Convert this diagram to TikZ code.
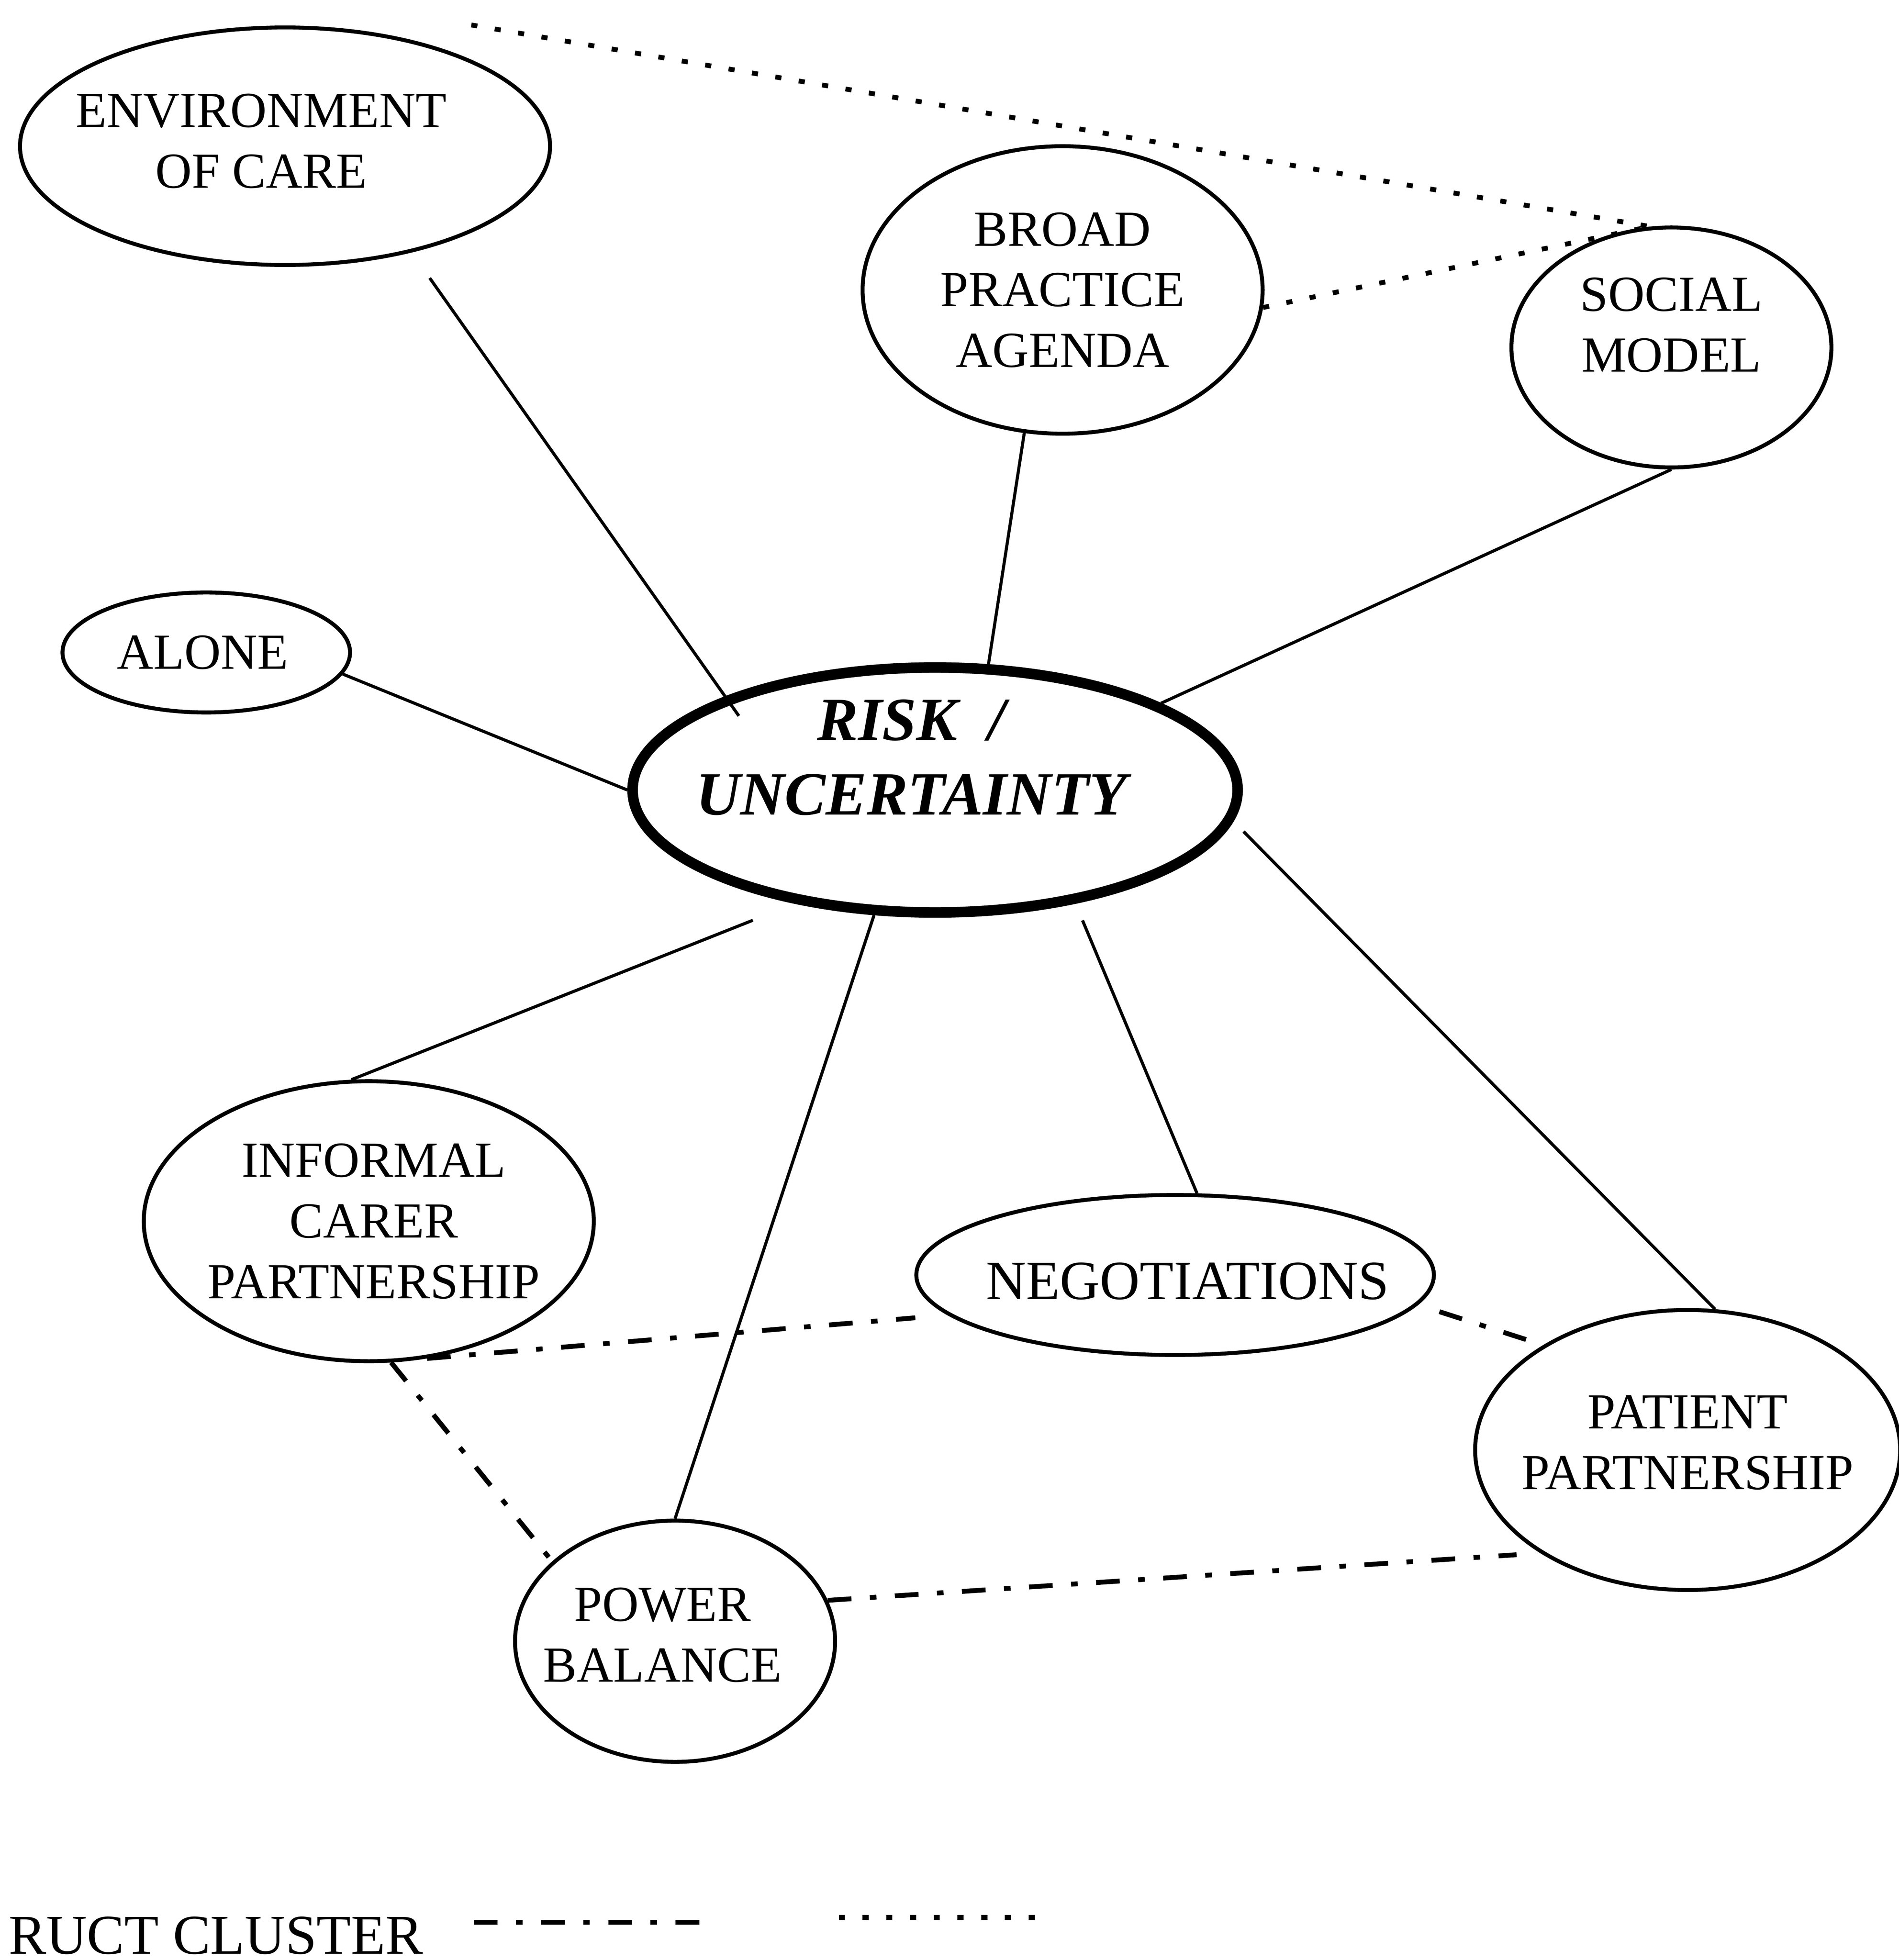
\documentclass[tikz,border=0pt]{standalone}
\usepackage{fontspec}
\setmainfont{Liberation Serif}
\usetikzlibrary{shapes.geometric}

\tikzset{
	bubble/.style 2 args={ellipse, draw, line width=0.9pt, inner sep=0pt, minimum width=#1cm, minimum height=#2cm},
	txt/.style={align=center, font=\fontsize{11.5}{13.8}\selectfont},
	link/.style={line width=0.7pt},
	dashdotline/.style={line width=1.1pt, dash pattern=on 5.4pt off 4.2pt on 1.5pt off 4.2pt},
	dotline/.style={line width=1.1pt, dash pattern=on 1.4pt off 4pt}
}

\begin{document}
\begin{tikzpicture}
		\useasboundingbox (0,0) rectangle (15.19,15.68);
		
		\node[bubble={4.24}{1.90}, label={[txt, xshift=-0.19cm, yshift=0.04cm]center:{ENVIRONMENT\\OF CARE}}] (env) at (2.28,14.51) {};
		\node[bubble={3.20}{2.30}, label={[txt]center:{BROAD\\PRACTICE\\AGENDA}}] (broad) at (8.50,13.36) {};
		\node[bubble={2.56}{1.92}, label={[txt, yshift=0.18cm]center:{SOCIAL\\MODEL}}] (social) at (13.37,12.90) {};
		\node[bubble={2.30}{0.96}, label={[txt, xshift=-0.03cm]center:ALONE}] (alone) at (1.65,10.46) {};
		\node[bubble={4.84}{1.96}, line width=2.4pt, label={[txt, font=\fontsize{14}{17}\selectfont\bfseries\itshape, xshift=-0.19cm, yshift=0.26cm]center:{RISK~~/\\UNCERTAINTY}}] (risk) at (7.48,9.36) {};
		\node[bubble={3.60}{2.24}, label={[txt, xshift=0.04cm]center:{INFORMAL\\CARER\\PARTNERSHIP}}] (informal) at (2.95,5.91) {};
		\node[bubble={4.14}{1.28}, label={[txt, font=\fontsize{12.6}{15}\selectfont, xshift=0.1cm, yshift=-0.05cm]center:NEGOTIATIONS}] (neg) at (9.40,5.48) {};
		\node[bubble={3.40}{2.24}, label={[txt, yshift=0.06cm]center:{PATIENT\\PARTNERSHIP}}] (patient) at (13.50,4.08) {};
		\node[bubble={2.56}{1.93}, label={[txt, xshift=-0.1cm, yshift=0.05cm]center:{POWER\\BALANCE}}] (power) at (5.40,2.55) {};
		
		% solid links to the centre
		\draw[link, shorten <=0.25cm, shorten >=-0.19cm] (env.-40) -- (risk.156);
		\draw[link] (broad.255) -- (risk.67);
		\draw[link] (social.270) -- (risk.21);
		\draw[link] (alone.-9) -- (risk.180);
		\draw[link, shorten <=0.36cm] (risk.219) -- (informal.97);
		\draw[link] (risk.244) -- (power.90);
		\draw[link, shorten <=0.145cm] (risk.-39) -- (neg.75);
		\draw[link, shorten <=0.115cm] (risk.-6) -- (patient.79);
		
		% dotted
		\coordinate (topend) at (3.77,15.48);
		\draw[dotline] (topend) -- (social.100);
		\draw[dotline] (broad.-5) -- (social.100);
		
		% dash dot
		\draw[dashdotline, shorten >=0.26cm] (informal.-67) -- (neg.190);
		\draw[dashdotline, shorten <=0.18cm] (neg.-7) -- (patient.144);
		\draw[dashdotline] (informal.-81) -- (power.147);
		\draw[dashdotline, shorten >=0.19cm] (power.15) -- (patient.215);
		
		% legend
		\node[font=\fontsize{12.8}{15}\selectfont, anchor=base east, inner sep=0pt] (legend) at (3.39,0.05) {RUCT CLUSTER};
		\draw[dashdotline] (3.79,0.30) -- (5.68,0.30);
		\draw[dotline] (6.71,0.34) -- (8.30,0.34);
\end{tikzpicture}
\end{document}
